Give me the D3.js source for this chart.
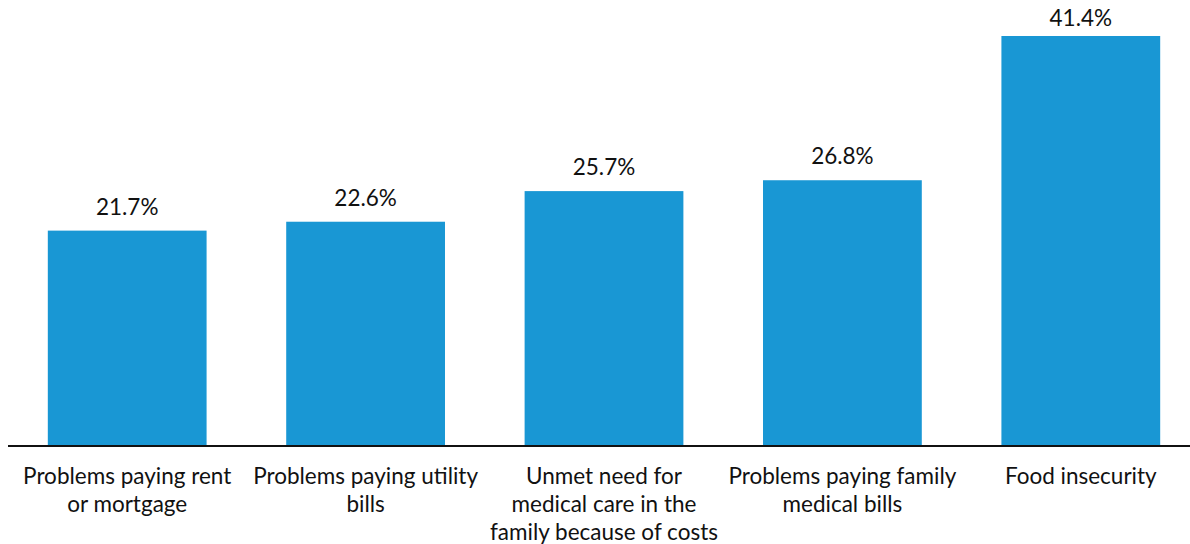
<!DOCTYPE html>
<html>
<head>
<meta charset="utf-8">
<script src="https://cdn.jsdelivr.net/npm/d3@7"></script>
<style>
  html, body { margin: 0; padding: 0; background: #fff; }
  svg { display: block; font-family: Lato, "Open Sans", sans-serif; }
</style>
</head>
<body>
<svg id="chart" width="1190" height="544"></svg>
<script>
// Hardship indicators and the share reporting each
const categories = [
  "Problems paying rent or mortgage",
  "Problems paying utility bills",
  "Unmet need for medical care in the family because of costs",
  "Problems paying family medical bills",
  "Food insecurity"
];
const categoryLines = [
  ["Problems paying rent", "or mortgage"],
  ["Problems paying utility", "bills"],
  ["Unmet need for", "medical care in the", "family because of costs"],
  ["Problems paying family", "medical bills"],
  ["Food insecurity"]
];
const values = [21.7, 22.6, 25.7, 26.8, 41.4];

const svg = d3.select("#chart");
const baseY = 445;

const x = d3.scaleBand()
  .domain(categories)
  .range([8, 1200])
  .paddingInner(0.334)
  .paddingOuter(0.167);

const y = d3.scaleLinear()
  .domain([0, 41.4])
  .range([baseY, 36]);

// Bars
svg.append("g")
  .selectAll("rect")
  .data(values)
  .join("rect")
  .attr("x", (d, i) => x(categories[i]))
  .attr("y", d => y(d))
  .attr("width", x.bandwidth())
  .attr("height", d => baseY - y(d))
  .attr("fill", "#1997d4");

// Value labels
svg.append("g")
  .selectAll("text")
  .data(values)
  .join("text")
  .attr("x", (d, i) => x(categories[i]) + x.bandwidth() / 2)
  .attr("y", d => Math.max(y(d) - 16, 26))
  .attr("text-anchor", "middle")
  .attr("font-size", 22.5)
  .attr("fill", "#111")
  .text(d => d.toFixed(1) + "%");

// Baseline
svg.append("line")
  .attr("x1", 8)
  .attr("x2", 1190)
  .attr("y1", baseY + 1)
  .attr("y2", baseY + 1)
  .attr("stroke", "#111")
  .attr("stroke-width", 2);

// Category labels, wrapped
const lab = svg.append("g")
  .selectAll("text")
  .data(categories)
  .join("text")
  .attr("text-anchor", "middle")
  .attr("font-size", 22.5)
  .attr("fill", "#111");

lab.each(function (c, i) {
  const t = d3.select(this);
  categoryLines[i].forEach((line, j) => {
    t.append("tspan")
      .attr("x", x(c) + x.bandwidth() / 2)
      .attr("y", 484 + j * 28)
      .text(line);
  });
});
</script>
</body>
</html>
